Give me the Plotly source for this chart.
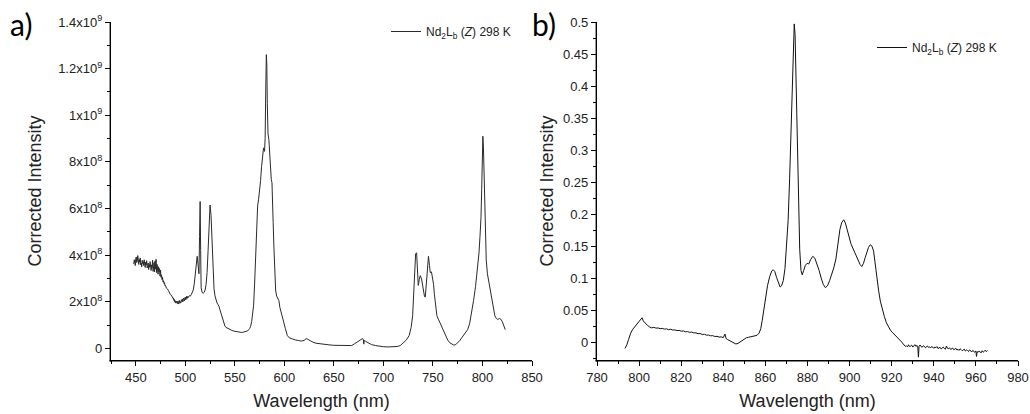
import plotly.graph_objects as go

# ---- Panel a: corrected emission, 425-850 nm; (wavelength nm, intensity / 1e8) ----
INT_UNIT_A = 1e8
points_a = [
    (448, 3.62), (448.5, 3.80), (449, 3.70), (449.5, 3.55), (450, 3.85),
    (450.5, 3.92), (451, 3.68), (451.5, 3.75), (452, 3.98), (452.5, 3.72),
    (453, 3.60), (453.5, 3.82), (454, 3.70), (454.5, 3.88), (455, 3.58),
    (455.5, 3.66), (456, 3.50), (456.5, 3.78), (457, 3.64), (457.5, 3.72),
    (458, 3.55), (458.5, 3.80), (459, 3.60), (459.5, 3.47), (460, 3.70),
    (460.5, 3.58), (461, 3.76), (461.5, 3.45), (462, 3.52), (462.5, 3.66),
    (463, 3.38), (463.5, 3.60), (464, 3.48), (464.5, 3.72), (465, 3.40),
    (465.5, 3.34), (466, 3.58), (466.5, 3.46), (467, 3.78), (467.5, 3.30),
    (468, 3.52), (468.5, 3.68), (469, 3.28), (469.5, 3.75), (470, 3.40),
    (470.5, 3.82), (471, 3.25), (471.5, 3.60), (472, 3.35), (472.5, 3.18),
    (473, 3.50), (473.5, 3.28), (474, 3.42), (474.5, 3.10), (475, 3.36),
    (475.5, 3.05), (476, 3.15), (476.5, 2.95), (477, 3.05), (477.5, 2.85),
    (478, 2.90), (478.5, 2.78), (479, 2.82), (479.5, 2.68), (480, 2.70),
    (481, 2.58), (482, 2.55), (483, 2.48), (484, 2.38), (485, 2.30),
    (486, 2.28), (487, 2.20), (487.5, 2.14), (488, 2.16), (488.5, 2.05),
    (489, 2.10), (489.5, 1.98), (490, 2.04), (490.5, 1.94), (491, 2.02),
    (491.5, 1.96), (492, 1.92), (492.5, 2.03), (493, 1.90), (493.5, 1.98),
    (494, 2.06), (494.5, 1.93), (495, 2.00), (495.5, 1.95), (496, 2.08),
    (496.5, 2.02), (497, 2.12), (497.5, 1.99), (498, 2.10), (498.5, 2.16),
    (499, 2.04), (499.5, 2.14), (500, 2.20), (500.5, 2.08), (501, 2.18),
    (501.5, 2.24), (502, 2.14), (502.5, 2.22), (503, 2.18), (504, 2.26),
    (505, 2.24), (506, 2.30), (507, 2.38), (508, 2.50), (509, 2.75),
    (510, 3.20), (511, 3.70), (512, 3.95), (513, 3.55), (513.8, 3.20),
    (514.4, 4.80), (515, 6.30), (515.5, 4.20), (516, 2.60), (517, 2.40),
    (518, 2.36), (519, 2.40), (520, 2.50), (521, 2.75), (522, 3.25),
    (523, 4.20), (524, 5.40), (525, 6.15), (526, 5.70), (527, 4.40),
    (528, 3.10), (529, 2.55), (530, 2.25), (531, 2.05), (532, 1.95),
    (533, 1.88), (534, 1.80), (535, 1.65), (536, 1.50), (537, 1.38),
    (538, 1.25), (539, 1.08), (540, 0.96), (541, 0.90), (543, 0.85),
    (545, 0.80), (547, 0.77), (549, 0.74), (551, 0.72), (553, 0.70),
    (555, 0.67), (557, 0.68), (559, 0.70), (561, 0.72), (563, 0.75),
    (565, 0.85), (566, 0.95), (567, 1.15), (568, 1.45), (569, 1.85),
    (570, 2.80), (571, 4.00), (572, 5.40), (573, 6.10), (574, 6.40),
    (575, 6.70), (576, 7.20), (577, 7.80), (578, 8.30), (579, 8.60),
    (580, 8.45), (580.6, 9.00), (581.2, 11.00), (581.8, 12.60), (582.3, 12.20),
    (582.8, 10.50), (583.5, 9.20), (584.4, 8.95), (585.2, 8.40), (586, 7.60),
    (586.8, 7.25), (587.5, 7.10), (588, 6.60), (588.7, 5.40), (589.5, 4.30),
    (590.3, 3.20), (591.2, 2.50), (592.2, 2.24), (593.2, 2.15), (594.5, 2.05),
    (595.5, 1.75), (596.5, 1.55), (598, 1.35), (599.5, 1.10), (601, 0.85),
    (603, 0.55), (605, 0.45), (608, 0.40), (611, 0.36), (614, 0.34),
    (617, 0.31), (620, 0.34), (622, 0.42), (624, 0.38), (626, 0.32),
    (629, 0.26), (632, 0.22), (636, 0.19), (640, 0.17), (645, 0.15),
    (650, 0.13), (655, 0.12), (660, 0.11), (665, 0.10), (668, 0.12),
    (671, 0.20), (674, 0.28), (677, 0.36), (679, 0.42), (679.8, 0.36),
    (680.2, 0.18), (680.6, 0.34), (682, 0.30), (685, 0.22), (688, 0.16),
    (692, 0.12), (696, 0.09), (700, 0.07), (705, 0.06), (710, 0.06),
    (714, 0.08), (717, 0.12), (720, 0.22), (723, 0.35), (726, 0.55),
    (728, 0.90), (729.5, 1.40), (730.5, 2.20), (731.5, 3.30), (732.5, 4.05),
    (733.5, 4.10), (734.3, 3.50), (735.2, 2.70), (736.2, 2.95), (737.2, 3.12),
    (738.5, 2.98), (739.5, 2.75), (740.5, 2.40), (741.5, 2.22), (742.3, 2.20),
    (743.3, 2.80), (744.5, 3.70), (745.5, 3.95), (746.5, 3.55), (747.3, 3.25),
    (748.5, 3.28), (749.5, 3.05), (750.6, 2.75), (751.5, 2.30), (752.5, 1.80),
    (754, 1.40), (755.5, 1.25), (757, 1.10), (759, 0.95), (761, 0.75),
    (763, 0.52), (765, 0.35), (767, 0.24), (769, 0.17), (771, 0.14),
    (773, 0.16), (775, 0.24), (777, 0.33), (779, 0.45), (781, 0.55),
    (783, 0.65), (785, 0.80), (787, 1.05), (789, 1.50), (791, 2.05),
    (793, 2.65), (795, 3.40), (796.5, 4.10), (797.5, 4.80), (798.5, 5.60),
    (799.2, 6.80), (799.8, 8.20), (800.4, 9.10), (801, 8.60), (801.6, 7.20),
    (802.2, 5.80), (803, 4.60), (803.8, 3.80), (805, 3.20), (806.5, 2.80),
    (808, 2.45), (809.5, 2.15), (811, 1.70), (812.5, 1.40), (814, 1.28),
    (815.5, 1.24), (817, 1.28), (818.5, 1.25), (820, 1.15), (821, 1.02),
    (822, 0.90), (823, 0.80),
]

# ---- Panel b: corrected emission, 780-980 nm; (wavelength nm, intensity) ----
points_b = [
    (793.3, -0.0100), (794.2, -0.0040), (795, 0.0040), (796, 0.0140),
    (797, 0.0200), (798, 0.0240), (799, 0.0280), (800, 0.0320),
    (800.8, 0.0360), (801.4, 0.0380), (802, 0.0330), (803, 0.0290),
    (804, 0.0260), (805, 0.0235), (806, 0.0222), (807, 0.0230),
    (808, 0.0218), (809, 0.0221), (810, 0.0209), (811, 0.0214),
    (812, 0.0203), (813, 0.0206), (814, 0.0194), (815, 0.0201),
    (816, 0.0188), (817, 0.0190), (818, 0.0179), (819, 0.0183),
    (820, 0.0170), (821, 0.0174), (822, 0.0161), (823, 0.0164),
    (824, 0.0152), (825, 0.0156), (826, 0.0143), (827, 0.0144),
    (828, 0.0131), (829, 0.0134), (830, 0.0119), (831, 0.0122),
    (832, 0.0108), (833, 0.0110), (834, 0.0098), (835, 0.0100),
    (836, 0.0087), (837, 0.0090), (838, 0.0078), (839, 0.0081),
    (840, 0.0070), (840.8, 0.0125), (841.3, 0.0058), (842, 0.0040),
    (843, 0.0022), (844, 0.0005), (845, -0.0015), (846, -0.0030),
    (847, -0.0020), (848, 0.0005), (849, 0.0030), (850, 0.0055),
    (851, 0.0068), (852, 0.0075), (853, 0.0080), (854, 0.0084),
    (855, 0.0092), (856, 0.0105), (857, 0.0140), (857.8, 0.0210),
    (858.5, 0.0340), (859.3, 0.0520), (860.2, 0.0720), (861, 0.0880),
    (862, 0.1020), (863, 0.1110), (863.7, 0.1130), (864.5, 0.1100),
    (865.3, 0.1010), (866.2, 0.0910), (867, 0.0860), (867.7, 0.0880),
    (868.5, 0.0960), (869.3, 0.1150), (870, 0.1440), (870.8, 0.1900),
    (871.5, 0.2550), (872.2, 0.3400), (872.8, 0.4300), (873.3, 0.4850),
    (873.7, 0.4970), (874.1, 0.4800), (874.6, 0.4100), (875.1, 0.3100),
    (875.7, 0.2100), (876.3, 0.1450), (876.9, 0.1120), (877.5, 0.1050),
    (878.2, 0.1120), (879, 0.1200), (879.8, 0.1230), (880.6, 0.1220),
    (881.5, 0.1290), (882.5, 0.1340), (883.5, 0.1310), (884.5, 0.1220),
    (885.5, 0.1120), (886.5, 0.1000), (887.5, 0.0900), (888.5, 0.0850),
    (889.5, 0.0880), (890.5, 0.0960), (891.5, 0.1050), (892.5, 0.1160),
    (893.5, 0.1300), (894.5, 0.1530), (895.4, 0.1760), (896.3, 0.1870),
    (897.2, 0.1910), (898, 0.1860), (898.8, 0.1760), (899.7, 0.1650),
    (900.6, 0.1540), (901.5, 0.1470), (902.4, 0.1400), (903.3, 0.1320),
    (904.2, 0.1280), (905, 0.1210), (905.8, 0.1180), (906.6, 0.1230),
    (907.4, 0.1320), (908.2, 0.1400), (909, 0.1480), (909.8, 0.1520),
    (910.6, 0.1500), (911.4, 0.1420), (912.2, 0.1200), (913, 0.1000),
    (913.8, 0.0800), (914.6, 0.0640), (915.5, 0.0500), (916.5, 0.0400),
    (917.5, 0.0300), (918.5, 0.0230), (919.5, 0.0180), (920.5, 0.0145),
    (921.5, 0.0115), (922.5, 0.0080), (923.5, 0.0050), (924.5, 0.0010),
    (925.5, -0.0030), (926, -0.0050), (926.5, -0.0068), (927, -0.0058),
    (927.5, -0.0075), (928, -0.0042), (928.5, -0.0070), (929, -0.0062),
    (929.5, -0.0048), (930, -0.0078), (930.5, -0.0055), (931, -0.0040),
    (931.5, -0.0068), (932, -0.0052), (932.4, -0.0075), (932.7, -0.0235),
    (933, -0.0065), (933.5, -0.0045), (934, -0.0072), (934.5, -0.0080),
    (935, -0.0058), (935.5, -0.0066), (936, -0.0088), (936.5, -0.0070),
    (937, -0.0062), (937.5, -0.0085), (938, -0.0074), (938.5, -0.0092),
    (939, -0.0068), (939.5, -0.0080), (940, -0.0098), (940.5, -0.0076),
    (941, -0.0088), (941.5, -0.0070), (942, -0.0102), (942.5, -0.0090),
    (943, -0.0082), (943.5, -0.0108), (944, -0.0095), (944.5, -0.0078),
    (945, -0.0100), (945.5, -0.0112), (946, -0.0062), (946.5, -0.0098),
    (947, -0.0105), (947.5, -0.0088), (948, -0.0115), (948.5, -0.0102),
    (949, -0.0094), (949.5, -0.0120), (950, -0.0108), (950.5, -0.0098),
    (951, -0.0125), (951.5, -0.0112), (952, -0.0130), (952.5, -0.0105),
    (953, -0.0118), (953.5, -0.0135), (954, -0.0122), (954.5, -0.0110),
    (955, -0.0140), (955.5, -0.0125), (956, -0.0132), (956.5, -0.0148),
    (957, -0.0120), (957.5, -0.0138), (958, -0.0155), (958.5, -0.0130),
    (959, -0.0145), (959.5, -0.0160), (960, -0.0138), (960.3, -0.0225),
    (960.6, -0.0150), (961, -0.0162), (961.5, -0.0140), (962, -0.0152),
    (962.5, -0.0168), (963, -0.0135), (963.5, -0.0158), (964, -0.0145),
    (964.5, -0.0125), (965, -0.0150), (965.5, -0.0132),
]

wavelength_a = [p[0] for p in points_a]
intensity_a = [p[1] * INT_UNIT_A for p in points_a]
wavelength_b = [p[0] for p in points_b]
intensity_b = [p[1] for p in points_b]

SERIES_LABEL = "Nd<sub>2</sub>L<sub>b</sub> (<i>Z</i>) 298 K"

yticks_a = [0, 2e8, 4e8, 6e8, 8e8, 1e9, 1.2e9, 1.4e9]
yticktext_a = ["0", "2x10<sup>8</sup>", "4x10<sup>8</sup>", "6x10<sup>8</sup>",
               "8x10<sup>8</sup>", "1x10<sup>9</sup>", "1.2x10<sup>9</sup>",
               "1.4x10<sup>9</sup>"]

W, H = 1030, 414
FONT = "Liberation Sans, Arial, sans-serif"
INK = "#222222"
RULE_PX = 1.4  # thickness of the axis rules, in pixels

fig = go.Figure()
fig.add_trace(go.Scatter(
    x=wavelength_a, y=intensity_a,
    mode="lines", line=dict(color="#2a2a2a", width=1),
    name=SERIES_LABEL, xaxis="x", yaxis="y", legend="legend",
))
fig.add_trace(go.Scatter(
    x=wavelength_b, y=intensity_b,
    mode="lines", line=dict(color="#111111", width=1),
    name=SERIES_LABEL, xaxis="x2", yaxis="y2", legend="legend2",
))


def axis(**kw):
    base = dict(
        showline=True, linecolor="#000000", linewidth=1.3, mirror=False,
        ticks="outside", ticklen=5, tickwidth=1.2, tickcolor="#000000",
        showgrid=False, zeroline=False,
        tickfont=dict(family=FONT, size=13, color=INK),
    )
    base.update(kw)
    return base


def title(text, standoff):
    return dict(text=text, standoff=standoff,
                font=dict(family=FONT, size=18, color=INK))


x_dom_a = [111 / W, 532 / W]
x_dom_b = [597 / W, 1018 / W]
y_dom = [1 - 360 / H, 1 - 22 / H]


def frame_rules(x_dom):
    # bottom and left axis rules of one panel, as thin filled bands
    # sitting just outside the panel's plotting area
    dx, dy = RULE_PX / W, RULE_PX / H
    band = dict(type="rect", xref="paper", yref="paper", layer="above",
                fillcolor="#000000", line=dict(width=0))
    return [
        dict(band, x0=x_dom[0] - dx, x1=x_dom[1],
             y0=y_dom[0] - dy, y1=y_dom[0]),
        dict(band, x0=x_dom[0] - dx, x1=x_dom[0],
             y0=y_dom[0] - dy, y1=y_dom[1]),
    ]


fig.update_layout(
    width=W, height=H,
    margin=dict(l=0, r=0, t=0, b=0, autoexpand=False),
    paper_bgcolor="white", plot_bgcolor="rgba(0,0,0,0)",
    xaxis=axis(domain=x_dom_a, anchor="y",
               range=[425, 850], tick0=450, dtick=50,
               minor=dict(ticks="outside", ticklen=3, dtick=25, tick0=425,
                          tickcolor="#000000", tickwidth=1),
               title=title("Wavelength (nm)", 10)),
    yaxis=axis(domain=y_dom, anchor="x",
               range=[-0.5e8, 1.4e9], tickmode="array",
               tickvals=yticks_a, ticktext=yticktext_a,
               minor=dict(ticks="outside", ticklen=3, dtick=1e8, tick0=0,
                          tickcolor="#000000", tickwidth=1),
               title=title("Corrected Intensity", 11)),
    xaxis2=axis(domain=x_dom_b, anchor="y2",
                range=[780, 980], tick0=780, dtick=20,
                minor=dict(ticks="outside", ticklen=3, dtick=10, tick0=780,
                           tickcolor="#000000", tickwidth=1),
                title=title("Wavelength (nm)", 10)),
    yaxis2=axis(domain=y_dom, anchor="x2",
                range=[-0.028, 0.5], tick0=0, dtick=0.05,
                minor=dict(ticks="outside", ticklen=3, dtick=0.025, tick0=0,
                           tickcolor="#000000", tickwidth=1),
                title=title("Corrected Intensity", 4)),
    legend=dict(x=386 / W, y=1 - 17 / H, xanchor="left", yanchor="top",
                bgcolor="rgba(0,0,0,0)", itemwidth=30,
                font=dict(family=FONT, size=12, color=INK)),
    legend2=dict(x=872 / W, y=1 - 33 / H, xanchor="left", yanchor="top",
                 bgcolor="rgba(0,0,0,0)", itemwidth=30,
                 font=dict(family=FONT, size=12, color=INK)),
    showlegend=True,
    shapes=frame_rules(x_dom_a) + frame_rules(x_dom_b),
    annotations=[
        dict(text="a)", x=8 / W, y=1 - 4 / H, xref="paper", yref="paper",
             xanchor="left", yanchor="top", showarrow=False,
             font=dict(family="Lato, sans-serif", size=30, color="black")),
        dict(text="b)", x=530 / W, y=1 - 4 / H, xref="paper", yref="paper",
             xanchor="left", yanchor="top", showarrow=False,
             font=dict(family="Lato, sans-serif", size=30, color="black")),
    ],
)

fig.write_html("out.html")
